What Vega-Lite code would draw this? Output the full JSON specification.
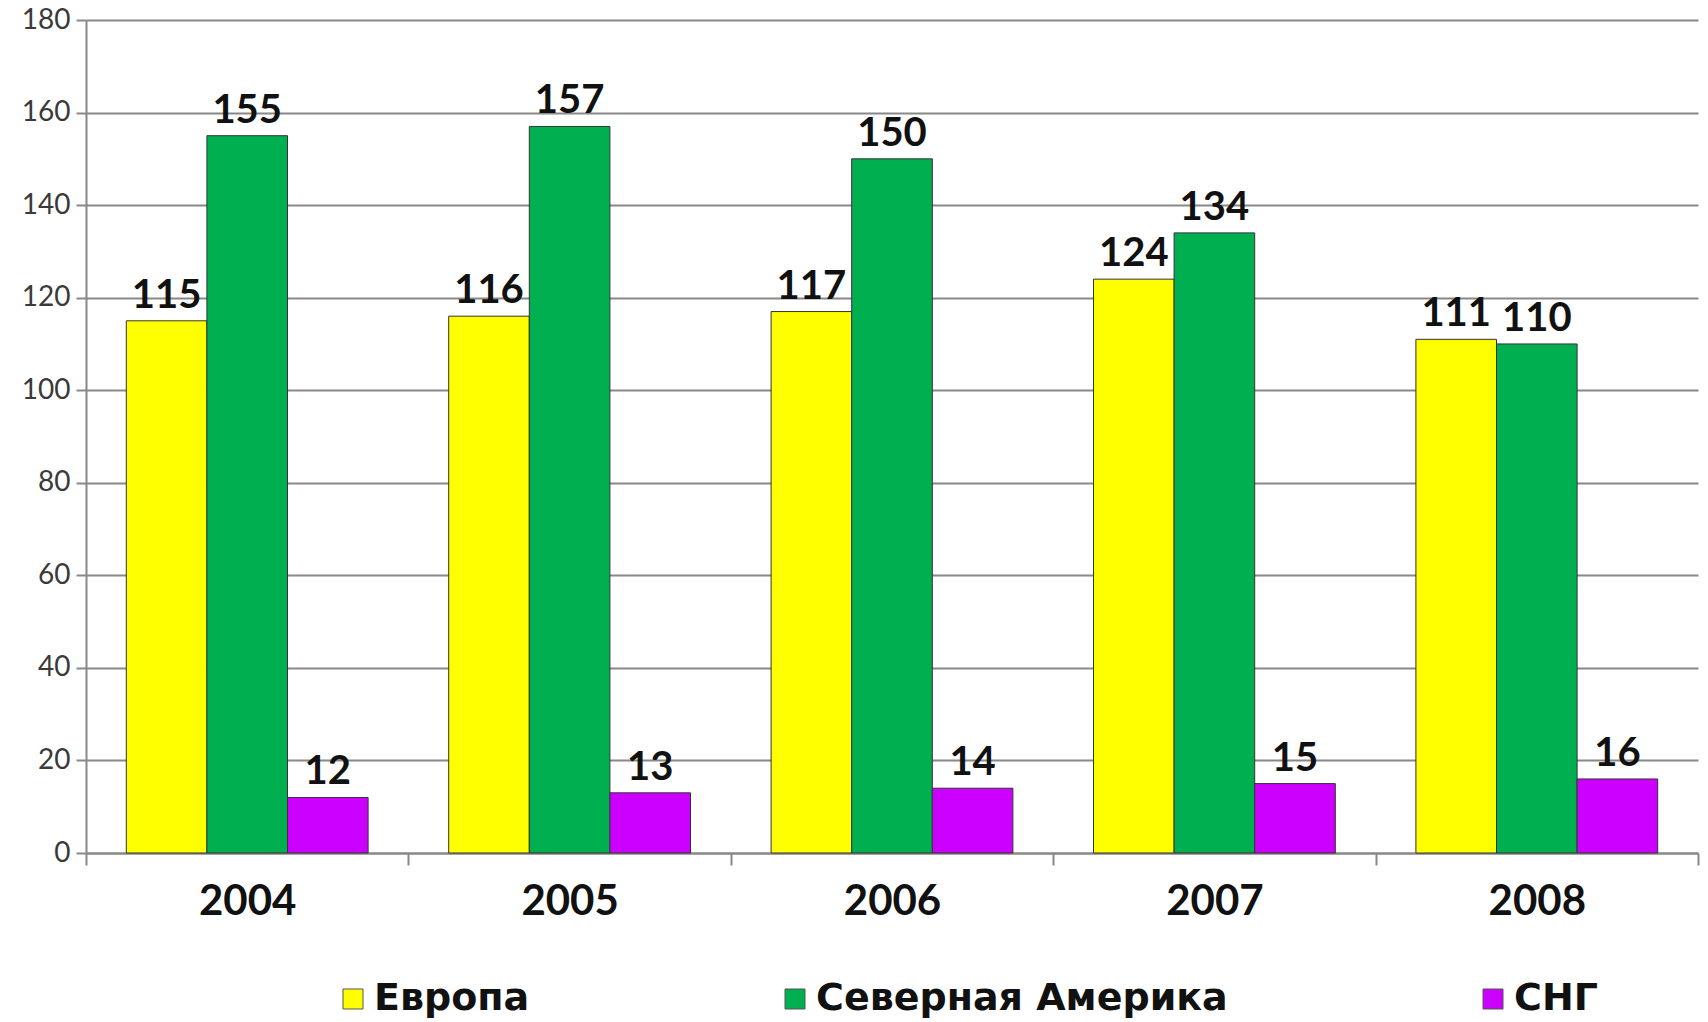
{
  "$schema": "https://vega.github.io/schema/vega-lite/v6.json",
  "autosize": "none",
  "width": 1612,
  "height": 833,
  "padding": {"left": 86, "top": 20, "right": 10, "bottom": 169},
  "background": "white",
  "config": {
    "view": {"stroke": null},
    "font": "Lato"
  },
  "data": {
    "values": [
      {"year": "2004", "region": "Европа", "value": 115},
      {"year": "2004", "region": "Северная Америка", "value": 155},
      {"year": "2004", "region": "СНГ", "value": 12},
      {"year": "2005", "region": "Европа", "value": 116},
      {"year": "2005", "region": "Северная Америка", "value": 157},
      {"year": "2005", "region": "СНГ", "value": 13},
      {"year": "2006", "region": "Европа", "value": 117},
      {"year": "2006", "region": "Северная Америка", "value": 150},
      {"year": "2006", "region": "СНГ", "value": 14},
      {"year": "2007", "region": "Европа", "value": 124},
      {"year": "2007", "region": "Северная Америка", "value": 134},
      {"year": "2007", "region": "СНГ", "value": 15},
      {"year": "2008", "region": "Европа", "value": 111},
      {"year": "2008", "region": "Северная Америка", "value": 110},
      {"year": "2008", "region": "СНГ", "value": 16}
    ]
  },
  "encoding": {
    "x": {
      "field": "year",
      "type": "nominal",
      "scale": {"paddingInner": 0, "paddingOuter": 0},
      "axis": {
        "title": null,
        "labelAngle": 0,
        "labelFont": "Lato",
        "labelFontSize": 42,
        "labelFontWeight": "bold",
        "labelColor": "#111",
        "labelPadding": 16,
        "tickBand": "extent",
        "tickSize": 12,
        "tickColor": "#888",
        "tickWidth": 2,
        "domainColor": "#888",
        "domainWidth": 2,
        "grid": false
      }
    },
    "xOffset": {
      "field": "region",
      "type": "nominal",
      "sort": ["Европа", "Северная Америка", "СНГ"],
      "scale": {"paddingInner": 0, "paddingOuter": 0.5}
    },
    "y": {
      "field": "value",
      "type": "quantitative",
      "scale": {"domain": [0, 180], "nice": false},
      "axis": {
        "title": null,
        "values": [0, 20, 40, 60, 80, 100, 120, 140, 160, 180],
        "labelFont": "Lato",
        "labelFontSize": 28,
        "labelColor": "#3a3a3a",
        "labelPadding": 6,
        "tickSize": 10,
        "tickColor": "#888",
        "tickWidth": 2,
        "domainColor": "#888",
        "domainWidth": 2,
        "grid": true,
        "gridColor": "#888",
        "gridWidth": 2
      }
    }
  },
  "layer": [
    {
      "mark": {"type": "bar", "stroke": "#333", "strokeWidth": 1},
      "encoding": {
        "color": {
          "field": "region",
          "type": "nominal",
          "sort": ["Европа", "Северная Америка", "СНГ"],
          "scale": {
            "domain": ["Европа", "Северная Америка", "СНГ"],
            "range": ["#FFFF00", "#00B050", "#CC00FF"]
          },
          "legend": {
            "title": null,
            "orient": "none",
            "direction": "horizontal",
            "legendX": 248,
            "legendY": 960,
            "symbolType": "square",
            "symbolSize": 400,
            "symbolStrokeColor": "#555",
            "symbolStrokeWidth": 1,
            "symbolOpacity": 1,
            "labelFont": "DejaVu Sans",
            "labelFontSize": 38,
            "labelFontWeight": "bold",
            "labelColor": "#111",
            "labelOffset": 2,
            "labelLimit": 600,
            "columnPadding": 246
          }
        }
      }
    },
    {
      "mark": {
        "type": "text",
        "font": "Lato",
        "fontSize": 40,
        "fontWeight": "bold",
        "color": "#111",
        "baseline": "alphabetic",
        "dy": -13
      },
      "encoding": {
        "text": {"field": "value", "type": "quantitative"}
      }
    }
  ]
}
